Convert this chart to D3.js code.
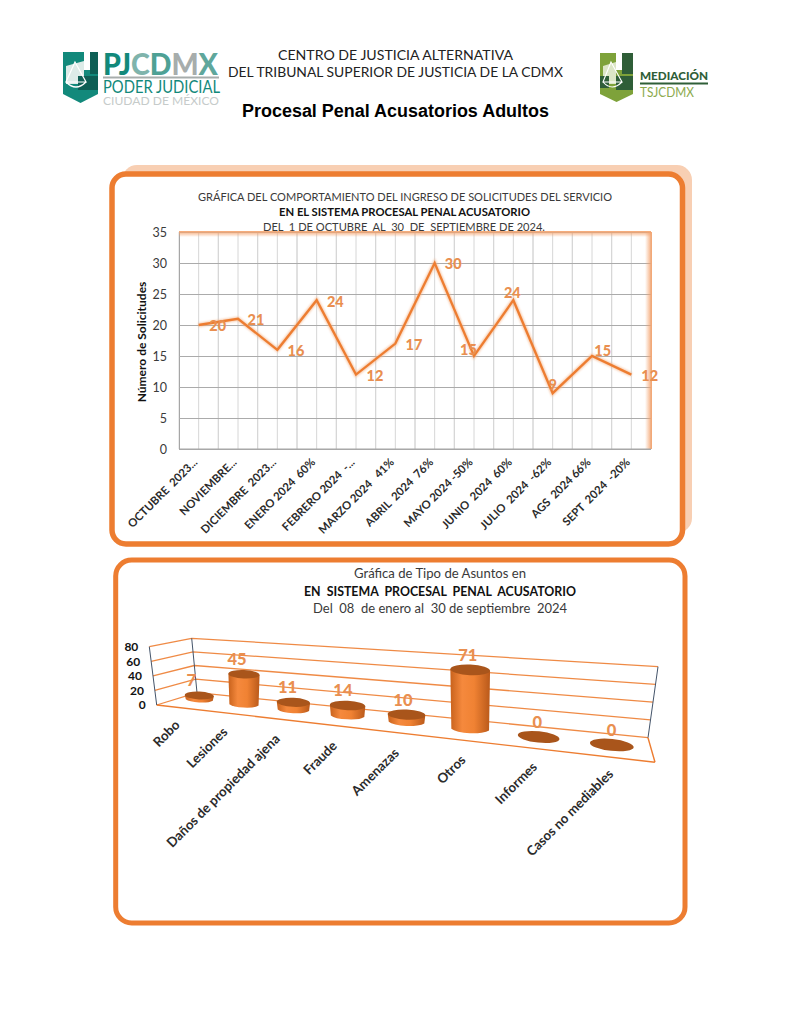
<!DOCTYPE html>
<html><head><meta charset="utf-8">
<script src="https://cdn.jsdelivr.net/npm/d3@7"></script>
<style>html,body{margin:0;padding:0;background:#fff}svg{display:block}text{white-space:pre}</style>
</head><body><div id="c"></div>
<script>
const months=["OCTUBRE  2023...","NOVIEMBRE...","DICIEMBRE  2023...","ENERO 2024  60%","FEBRERO 2024  -...","MARZO 2024   41%","ABRIL  2024  76%","MAYO 2024 -50%","JUNIO  2024  60%","JULIO  2024  -62%","AGS  2024 66%","SEPT  2024  -20%"];
const solicitudes=[20,21,16,24,12,17,30,15,24,9,15,12];
const yTicks=[0,5,10,15,20,25,30,35];
const asuntos=["Robo","Lesiones","Daños de propiedad ajena","Fraude","Amenazas","Otros","Informes","Casos no mediables"];
const asuntosValues=[7,45,11,14,10,71,0,0];
const wallTicks=[0,20,40,60,80];

const ORANGE="#ED7D31",LABEL="#E98F50",TXT="#3a3a3a",F="Lato, sans-serif";
const svg=d3.select("#c").append("svg").attr("width",791).attr("height",1024);
const defs=svg.append("defs");
function grad(id,x1,y1,x2,y2,stops){const g=defs.append("linearGradient").attr("id",id).attr("x1",x1).attr("y1",y1).attr("x2",x2).attr("y2",y2);
 stops.forEach(s=>g.append("stop").attr("offset",s[0]).attr("stop-color",s[1]).attr("stop-opacity",s[2]==null?1:s[2]));}
grad("gTop",0,0,0,1,[[0,"#F4A46F",1],[1,"#F4A46F",0]]);
grad("gRight",1,0,0,0,[[0,"#F4A46F",1],[1,"#F4A46F",0]]);
grad("gCyl",0,0,1,0,[[0,"#C8621C"],[.3,"#F5893D"],[.6,"#F08233"],[1,"#B9591A"]]);
defs.append("filter").attr("id","soft").append("feGaussianBlur").attr("stdDeviation",1.3);

/* ---------- header ---------- */
const h=svg.append("g");
function txt(g,s,x,y,o={}){const t=g.append("text").attr("x",x).attr("y",y).attr("text-anchor",o.a||"middle").attr("font-family",o.f||F).attr("font-size",o.s||12).attr("font-weight",o.w||400).attr("fill",o.c||TXT).text(s);
 if(o.len)t.attr("textLength",o.len).attr("lengthAdjust","spacingAndGlyphs");return t;}
txt(h,"CENTRO DE JUSTICIA ALTERNATIVA",395.5,60,{s:14.2,c:"#222",len:235});
txt(h,"DEL TRIBUNAL SUPERIOR DE JUSTICIA DE LA CDMX",395.5,77,{s:14.2,c:"#222",len:335});
txt(h,"Procesal Penal Acusatorios Adultos",395.5,117,{s:18,w:700,c:"#000",f:"'Liberation Sans', Arial, sans-serif",len:307});
// left logo
const L=h.append("g");
L.append("path").attr("d","M63 52H98V94L80.5 103L63 94Z").attr("fill","#12897B");
L.append("path").attr("d","M90 52H98V74H90Z").attr("fill","#0E5F55");
L.append("path").attr("d","M84 50H90V70H84Z").attr("fill","#fff");
L.append("path").attr("d","M66 66L84 61V84H66Z").attr("fill","#DDEBE8");
L.append("path").attr("d","M78 76H98V90H78Z").attr("fill","#0E5F55");
L.append("path").attr("d","M75 62L66 82H86ZM66 82Q76 92 86 82").attr("fill","none").attr("stroke","#fff").attr("stroke-width",1.2);
const lt=txt(L,"",103,75,{a:"start",s:31,w:900,c:"#12897B"}).attr("textLength",115).attr("lengthAdjust","spacingAndGlyphs");
[["PJ","#12897B"],["C","#7FB4AC"],["D","#4EA195"],["M","#A7ADAC"],["X","#5FA79C"]].forEach(p=>lt.append("tspan").attr("fill",p[1]).text(p[0]));
L.append("rect").attr("x",103).attr("y",76.5).attr("width",116).attr("height",2).attr("fill","#A7ADAC");
txt(L,"PODER JUDICIAL",103,93,{a:"start",s:17,c:"#12897B",len:117});
txt(L,"CIUDAD DE MÉXICO",103,104.5,{a:"start",s:10.5,c:"#C6CBCA",len:116});
// right logo
const R=h.append("g");
R.append("path").attr("d","M600 53H633V94L616.5 102L600 94Z").attr("fill","#7EA23A");
R.append("path").attr("d","M622 53H633V74H622Z").attr("fill","#2F5E38");
R.append("path").attr("d","M616 50H622V70H616Z").attr("fill","#fff");
R.append("path").attr("d","M603 66L616 62V84H603Z").attr("fill","#DCE6C6");
R.append("path").attr("d","M600 76H609V88H600ZM616 76H633V90H616Z").attr("fill","#2F5E38");
R.append("path").attr("d","M611 62L603 82H622ZM603 82Q612 92 622 82").attr("fill","none").attr("stroke","#fff").attr("stroke-width",1.1);
txt(R,"MEDIACIÓN",640,79.5,{a:"start",s:12,w:900,c:"#2F5E38",len:68});
R.append("rect").attr("x",640).attr("y",82.5).attr("width",68).attr("height",2).attr("fill","#2F5E38");
txt(R,"TSJCDMX",640,97,{a:"start",s:12.5,c:"#8BAA4D",len:54});

/* ---------- chart 1 ---------- */
const c1=svg.append("g");
c1.append("rect").attr("x",122).attr("y",165).attr("width",570).attr("height",368).attr("rx",15).attr("fill","#F8CFB3");
c1.append("rect").attr("x",112).attr("y",174).attr("width",570.5).attr("height",370).attr("rx",14).attr("fill","#fff").attr("stroke",ORANGE).attr("stroke-width",5.5);
txt(c1,"GRÁFICA DEL COMPORTAMIENTO DEL INGRESO DE SOLICITUDES DEL SERVICIO",405,201,{s:12,len:414});
txt(c1,"EN EL SISTEMA PROCESAL PENAL ACUSATORIO",404.5,216,{s:11.8,w:700,c:"#111",len:251});
txt(c1,"DEL  1 DE OCTUBRE  AL  30  DE  SEPTIEMBRE DE 2024.",404,231,{s:12,len:282});
const X0=179,X1=651,Y0=449,Y1=232;
const x=d3.scalePoint().domain(months).range([X0,X1]).padding(.5);
const y=d3.scaleLinear().domain([0,35]).range([Y0,Y1]);
const vg=c1.append("g");
months.forEach(m=>[-.5,0,.5].forEach(k=>vg.append("line").attr("x1",x(m)+k*x.step()).attr("x2",x(m)+k*x.step()).attr("y1",Y1).attr("y2",Y0).attr("stroke","#D6D6D6").attr("stroke-width",1)));
vg.append("line").attr("x1",X1).attr("x2",X1).attr("y1",Y1).attr("y2",Y0).attr("stroke","#D6D6D6");
const yAxis=d3.axisLeft(y).tickValues(yTicks).tickSize(X0-X1).tickPadding(12);
const ya=c1.append("g").attr("transform",`translate(${X0},0)`).call(yAxis);
ya.select(".domain").attr("stroke","#A6A6A6");
ya.selectAll("line").attr("stroke","#ABABAB").attr("stroke-width",1);
ya.selectAll("text").attr("font-family",F).attr("font-size",12.5).attr("fill",TXT);
c1.append("rect").attr("x",X0).attr("y",Y1-1).attr("width",X1-X0).attr("height",6).attr("fill","url(#gTop)");
c1.append("rect").attr("x",X1-6).attr("y",Y1).attr("width",7).attr("height",Y0-Y1).attr("fill","url(#gRight)");
const xa=c1.append("g").attr("transform",`translate(0,${Y0})`).call(d3.axisBottom(x).tickSize(0));
xa.select(".domain").attr("stroke","#A6A6A6").attr("d",`M${X0},0H${X1}`);
xa.selectAll("text").attr("font-family",F).attr("font-size",11.3).attr("font-weight",700).attr("fill","#2b2b2b")
  .attr("text-anchor","end").attr("dy",0).attr("y",0).attr("transform","translate(-1,14) rotate(-45)");
c1.append("text").attr("transform","translate(146,342) rotate(-90)").attr("text-anchor","middle").attr("font-family",F).attr("font-size",12).attr("font-weight",700).attr("fill","#111").text("Número de Solicitudes");
const lineGen=d3.line().x((d,i)=>x(months[i])).y(d=>y(d));
c1.append("path").attr("d",lineGen(solicitudes)).attr("fill","none").attr("stroke","#F4B183").attr("stroke-width",4).attr("opacity",.7).attr("filter","url(#soft)");
c1.append("path").attr("d",lineGen(solicitudes)).attr("fill","none").attr("stroke",ORANGE).attr("stroke-width",2.3).attr("stroke-linejoin","miter");
// label placement relative to each point (layout only)
const labelDx=[19,18,18.6,18.7,19,18.6,18.5,-5.6,-1,0,10.7,18.3];
const labelDy=[1,1,1,1.4,1,1,1,-6.7,-7,-8,-5.4,1];
c1.selectAll(".dl").data(solicitudes).join("text").attr("class","dl")
 .attr("x",(d,i)=>x(months[i])+labelDx[i]).attr("y",(d,i)=>y(d)+labelDy[i]).attr("dy","0.36em")
 .attr("text-anchor","middle").attr("font-family",F).attr("font-size",14.5).attr("font-weight",900).attr("fill",LABEL).text(d=>d);

/* ---------- chart 2 ---------- */
const c2=svg.append("g");
c2.append("rect").attr("x",115.7).attr("y",560).attr("width",569.3).attr("height",363).attr("rx",16).attr("fill","#fff").attr("stroke",ORANGE).attr("stroke-width",5);
txt(c2,"Gráfica de Tipo de Asuntos en",440,578,{s:12.5,len:172});
txt(c2,"EN  SISTEMA  PROCESAL  PENAL  ACUSATORIO",440,596,{s:12.3,w:700,c:"#111",len:272});
txt(c2,"Del  08  de enero al  30 de septiembre  2024",440,613,{s:12.5,len:254});

// 3-D box projection: v is value on the wall, u runs along the floor
const v01=d3.scaleLinear().domain([0,80]).range([0,1]);
const corners={fl0:[156.7,705],fl1:[149.3,646.7],bl0:[197,692.7],bl1:[191.7,638.3],br0:[648,737.7],br1:[658,666.7],fr0:[655,762.3]};
const lerp=(a,b,t)=>[a[0]+(b[0]-a[0])*t,a[1]+(b[1]-a[1])*t];
const seg=(p,q)=>`M${p[0]},${p[1]}L${q[0]},${q[1]}`;
const wall=c2.append("g").attr("fill","none");
wallTicks.forEach(t=>{const k=v01(t);
 const f=lerp(corners.fl0,corners.fl1,k),b=lerp(corners.bl0,corners.bl1,k),r=lerp(corners.br0,corners.br1,k);
 wall.append("path").attr("d",seg(f,b)+seg(b,r)).attr("stroke",ORANGE).attr("stroke-width",1.3).attr("opacity",.9);
 c2.append("text").attr("x",f[0]-11).attr("y",f[1]).attr("dy","0.36em").attr("text-anchor","end").attr("font-family",F).attr("font-size",12).attr("font-weight",700).attr("fill","#111").text(t);
});
wall.append("path").attr("d",seg(corners.fl0,corners.fr0)+seg(corners.fr0,corners.br0)).attr("stroke",ORANGE).attr("stroke-width",1.4);
wall.append("path").attr("d",seg(corners.fl0,corners.fl1)+seg(corners.bl0,corners.bl1)+seg(corners.br0,corners.br1)).attr("stroke","#44546A").attr("stroke-width",1);

const idx=d3.scalePoint().domain(asuntos).range([0,7]);
const fx=t=>199.3+42.3*t+2.376*t*t;         // perspective spacing along the floor
const fy=t=>700+0.109*(fx(t)-199.3);
const fw=t=>29+2.14*t;
const pxPerUnit=t=>.64+.04*t;
const cyl=c2.selectAll(".cyl").data(asuntos.map((a,i)=>({a,v:asuntosValues[i],t:idx(a)}))).join("g").attr("class","cyl");
cyl.each(function(d){
 const tilt=d.v>0?2.5:6;
 const g=d3.select(this),cx=fx(d.t),by=fy(d.t),w=fw(d.t),ry=w*.135,hh=d.v*pxPerUnit(d.t),ty=by-hh,slope=Math.tan(tilt*Math.PI/180)*w/2;
 d.cx=cx;d.ty=ty;
 if(d.v>0){
  g.append("path").attr("d",`M${cx-w/2},${ty-slope}L${cx-w/2+1},${by-slope}A${w/2},${ry} ${tilt} 0 0 ${cx+w/2-1},${by+slope}L${cx+w/2},${ty+slope}Z`).attr("fill","url(#gCyl)");
 }
 g.append("ellipse").attr("cx",cx).attr("cy",ty).attr("rx",w/2).attr("ry",ry).attr("transform",`rotate(${tilt} ${cx} ${ty})`).attr("fill","#A9551B");
});
c2.selectAll(".vl").data(cyl.data()).join("text").attr("class","vl").attr("x",d=>d.cx-8+1.1*d.t).attr("y",d=>d.ty-15).attr("dy","0.36em")
 .attr("text-anchor","middle").attr("font-family",F).attr("font-size",16.5).attr("font-weight",900).attr("fill",LABEL).text(d=>d.v);
c2.selectAll(".cl").data(cyl.data()).join("text").attr("class","cl")
 .attr("transform",d=>`translate(${fx(d.t)-22+3*d.t},${722.5+7*d.t}) rotate(-45)`).attr("dy","0.35em")
 .attr("text-anchor","end").attr("font-family",F).attr("font-size",13.3).attr("font-weight",700).attr("fill","#2b2b2b").text(d=>d.a);
</script></body></html>
